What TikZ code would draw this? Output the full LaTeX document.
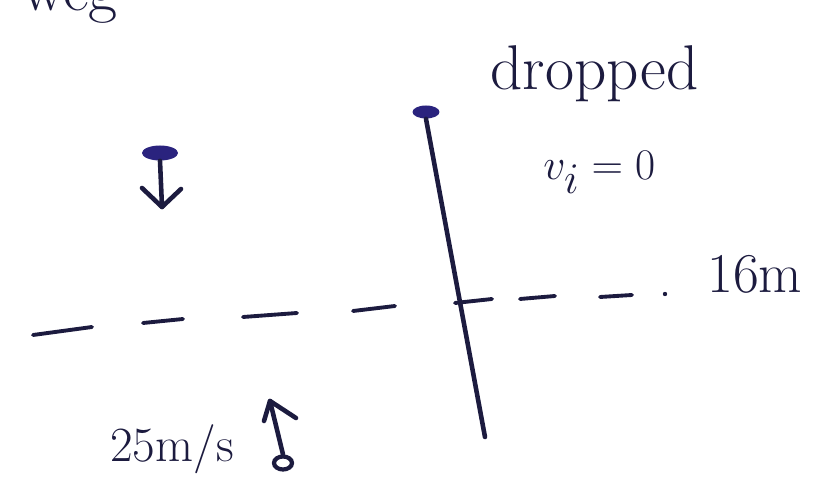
\documentclass[tikz,border=0pt]{standalone}
\usetikzlibrary{shapes.geometric}
\definecolor{ink}{HTML}{1C1B3F}
\definecolor{blob}{HTML}{2A237E}
\begin{document}
\begin{tikzpicture}[x=0.02cm,y=-0.02cm,
  inkline/.style={draw=ink, line width=2.6pt, line cap=round, line join=round},
  dashseg/.style={draw=ink, line width=2.2pt, line cap=round},
  hand/.style={text=ink, inner sep=0pt, anchor=base west},
  blobdot/.style={fill=blob, ellipse, inner sep=0pt}]
\useasboundingbox[fill=white] (0,0) rectangle (840,479);
\begin{scope}
  \clip (0,0) rectangle (840,479);
  \node[hand, font=\fontsize{36}{40}\selectfont] (cut) at (22,11) {weg};
\end{scope}
% labels
\node[hand, font=\fontsize{36}{40}\selectfont] (dropped) at (490,90) {dropped};
\node[hand, font=\fontsize{34}{40}\selectfont] (vi) at (543,180) {$v_i = 0$};
\node[hand, font=\fontsize{32}{38}\selectfont] (sixteen) at (707,293) {16m};
\node[hand, font=\fontsize{28}{32}\selectfont] (speed) at (110,462) {25m/s};
% dropped ball and its path
\node[blobdot, minimum width=0.54cm, minimum height=0.26cm] (ball) at (426,112) {};
\coordinate (bottom) at (485,437);
\draw[inkline] (ball.south) -- (bottom);
% falling object (left)
\node[blobdot, minimum width=0.72cm, minimum height=0.30cm] (blobA) at (160,153) {};
\coordinate (tipA) at (162,207);
\draw[inkline] (blobA.south) -- (tipA);
\draw[inkline] (142,188) -- (tipA) -- (181,189);
% thrown object (bottom)
\node[draw=ink, line width=2.4pt, ellipse, inner sep=0pt, minimum width=0.36cm, minimum height=0.26cm] (ring) at (283,463) {};
\coordinate (tipB) at (270,401);
\draw[inkline] (ring.north) -- (tipB);
\draw[inkline] (264,421) -- (tipB) -- (296,418);
% dashed 16 m level
\draw[dashseg] (33,335) -- (92,327);
\draw[dashseg] (143,323) -- (183,319);
\draw[dashseg] (243,317) -- (297,313);
\draw[dashseg] (353,311) -- (395,306);
\draw[dashseg] (455,303) -- (492,299);
\draw[dashseg] (520,299) -- (555,296);
\draw[dashseg] (600,297) -- (632,295);
\fill[ink] (665,294) circle (2.2);
\end{tikzpicture}
\end{document}
